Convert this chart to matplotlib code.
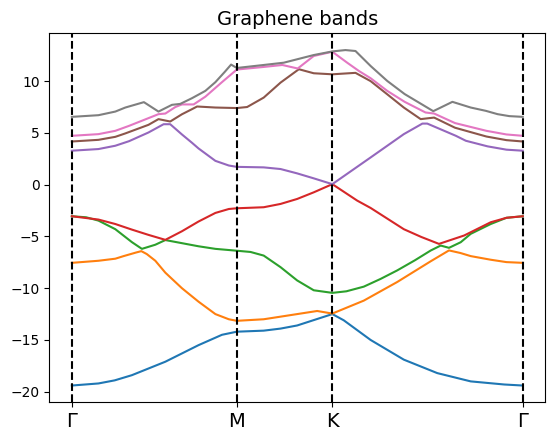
#! /usr/bin/env python3

import matplotlib
matplotlib.use( 'Agg' )
import matplotlib.pyplot as plt

#----------------------------------------------------------------------------
# Band energies, k along the path G-M-K-G
#----------------------------------------------------------------------------
k_points    = [ 0.0, 0.5774, 0.9107, 1.5774 ]
k_labels    = [ 'Γ', 'M', 'K', 'Γ' ]

k_band1 = [0.000, 0.093, 0.150, 0.210, 0.327, 0.443, 0.525, 0.577, 0.671,
           0.730, 0.788, 0.911, 0.951, 1.045, 1.161, 1.278, 1.395, 1.512,
           1.577]
e_band1 = [-19.4, -19.2, -18.9, -18.4, -17.1, -15.5, -14.5, -14.2, -14.1,
           -13.9, -13.6, -12.5, -13.1, -15.0, -16.9, -18.2, -19.0, -19.3,
           -19.4]

k_band2 = [0.000, 0.093, 0.152, 0.181, 0.225, 0.243, 0.262, 0.292, 0.327,
           0.385, 0.443, 0.502, 0.549, 0.577, 0.671, 0.788, 0.858, 0.911,
           1.021, 1.138, 1.255, 1.319, 1.359, 1.395, 1.465, 1.520, 1.577]
e_band2 = [-7.55, -7.35, -7.15, -6.9, -6.55, -6.42, -6.7, -7.35, -8.5,
           -10.0, -11.3, -12.5, -13.0, -13.15, -13.0, -12.5, -12.2, -12.45,
           -11.2, -9.4, -7.4, -6.35, -6.6, -6.9, -7.25, -7.48, -7.55]

k_band3 = [0.000, 0.050, 0.093, 0.152, 0.210, 0.245, 0.292, 0.327, 0.385,
           0.443, 0.502, 0.577, 0.625, 0.671, 0.730, 0.788, 0.846, 0.911,
           0.960, 1.021, 1.080, 1.138, 1.200, 1.255, 1.290, 1.319, 1.360,
           1.395, 1.465, 1.520, 1.577]
e_band3 = [-3.05, -3.15, -3.47, -4.3, -5.55, -6.2, -5.8, -5.35, -5.65,
           -5.95, -6.2, -6.38, -6.5, -6.85, -7.97, -9.25, -10.2, -10.45,
           -10.3, -9.85, -9.1, -8.28, -7.3, -6.36, -5.88, -6.1, -5.56,
           -4.75, -3.8, -3.2, -3.05]

k_band4 = [0.000, 0.093, 0.152, 0.210, 0.268, 0.327, 0.385, 0.443, 0.502,
           0.549, 0.577, 0.671, 0.730, 0.788, 0.846, 0.911, 0.998, 1.045,
           1.161, 1.222, 1.284, 1.372, 1.420, 1.465, 1.520, 1.577]
e_band4 = [-3.05, -3.37, -3.8, -4.34, -4.85, -5.33, -4.5, -3.56, -2.73,
           -2.35, -2.28, -2.18, -1.86, -1.38, -0.74, 0.05, -1.54, -2.25,
           -4.3, -5.05, -5.72, -4.91, -4.25, -3.63, -3.2, -3.05]

k_band5 = [0.000, 0.093, 0.152, 0.200, 0.268, 0.321, 0.344, 0.385, 0.420,
           0.443, 0.502, 0.549, 0.577, 0.671, 0.730, 0.788, 0.846, 0.911,
           1.045, 1.161, 1.226, 1.243, 1.343, 1.378, 1.454, 1.520, 1.577]
e_band5 = [3.28, 3.44, 3.76, 4.2, 5.04, 5.84, 5.84, 4.85, 4.05,
           3.5, 2.3, 1.85, 1.72, 1.67, 1.51, 1.09, 0.61, 0.05,
           2.63, 4.88, 5.9, 5.9, 4.72, 4.24, 3.7, 3.38, 3.28]

k_band6 = [0.000, 0.093, 0.152, 0.187, 0.268, 0.303, 0.344, 0.385, 0.420,
           0.438, 0.502, 0.577, 0.613, 0.671, 0.730, 0.794, 0.846, 0.911,
           0.992, 1.045, 1.103, 1.161, 1.220, 1.267, 1.340, 1.450, 1.520,
           1.577]
e_band6 = [4.17, 4.33, 4.62, 4.95, 5.78, 6.33, 6.1, 6.8, 7.29,
           7.55, 7.45, 7.4, 7.5, 8.41, 9.86, 11.15, 10.76, 10.66,
           10.8, 10.0, 8.73, 7.45, 6.33, 6.48, 5.5, 4.65, 4.3,
           4.17]

k_band7 = [0.000, 0.093, 0.152, 0.200, 0.303, 0.327, 0.362, 0.385, 0.426,
           0.467, 0.525, 0.577, 0.671, 0.736, 0.790, 0.846, 0.911, 0.963,
           1.004, 1.045, 1.103, 1.164, 1.237, 1.267, 1.340, 1.450, 1.520,
           1.577]
e_band7 = [4.72, 4.88, 5.2, 5.68, 6.81, 6.87, 7.5, 7.75, 7.75,
           8.5, 9.9, 11.12, 11.37, 11.56, 11.22, 12.43, 12.84, 11.78,
           10.98, 10.28, 9.06, 8.0, 6.97, 6.87, 5.95, 5.2, 4.85,
           4.72]

k_band8 = [0.000, 0.093, 0.152, 0.187, 0.252, 0.303, 0.350, 0.379, 0.420,
           0.467, 0.502, 0.535, 0.557, 0.577, 0.671, 0.741, 0.846, 0.911,
           0.957, 0.992, 1.045, 1.103, 1.164, 1.264, 1.331, 1.395, 1.448,
           1.489, 1.530, 1.577]
e_band8 = [6.55, 6.71, 7.06, 7.45, 7.97, 7.06, 7.71, 7.8, 8.35,
           9.06, 9.9, 10.9, 11.6, 11.27, 11.56, 11.78, 12.52, 12.87,
           13.0, 12.91, 11.46, 10.02, 8.75, 7.1, 8.0, 7.45, 7.13,
           6.81, 6.62, 6.55]

#----------------------------------------------------------------------------
# Main module
#----------------------------------------------------------------------------
def main():
    '''Graphene band structure along G-M-K-G'''

    bands = [ ( k_band1, e_band1 ), ( k_band2, e_band2 ),
              ( k_band3, e_band3 ), ( k_band4, e_band4 ),
              ( k_band5, e_band5 ), ( k_band6, e_band6 ),
              ( k_band7, e_band7 ), ( k_band8, e_band8 ) ]

    fig = plt.figure( figsize = ( 5.54, 4.41 ), dpi = 100 )
    ax  = fig.add_axes( [ 49.3/554, 1 - 402.3/441, 496/554, 369/441 ] )

    for k, e in bands :
        ax.plot( k, e )

    for kp in k_points :
        ax.axvline( kp, color = 'k', linestyle = '--' )

    ax.set_xticks( k_points )
    ax.set_xticklabels( k_labels, fontsize = 14 )
    ax.set_title( 'Graphene bands', fontsize = 14 )

    fig.savefig( 'out.png', dpi = 100 )

#----------------------------------------------------------------------------
if __name__ == "__main__":
    main()
